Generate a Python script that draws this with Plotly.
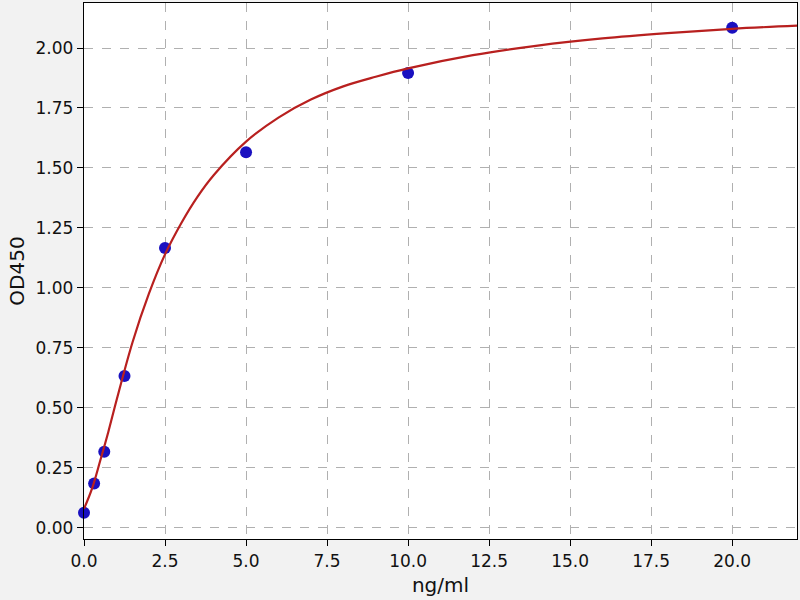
import plotly.graph_objects as go

# Standard points
conc = [0, 0.3125, 0.625, 1.25, 2.5, 5, 10, 20]
od = [0.063, 0.185, 0.318, 0.633, 1.167, 1.566, 1.896, 2.084]

# Fitted curve
curve_x = [0, 0.25, 0.5, 0.75, 1.0, 1.5, 2.0, 2.5, 3.0, 3.5, 4.0, 5.0, 6.0, 7.0,
           8.0, 9.0, 10.0, 12.0, 14.0, 16.0, 18.0, 20.0, 22.0]
curve_y = [0.08, 0.165, 0.28, 0.40, 0.53, 0.775, 0.975, 1.14, 1.27, 1.38, 1.47,
           1.61, 1.71, 1.785, 1.84, 1.88, 1.915, 1.97, 2.01, 2.04, 2.062,
           2.08, 2.093]

x_ticks = [0, 2.5, 5, 7.5, 10, 12.5, 15, 17.5, 20]
x_tick_labels = ["0.0", "2.5", "5.0", "7.5", "10.0", "12.5", "15.0", "17.5", "20.0"]
y_ticks = [0, 0.25, 0.5, 0.75, 1.0, 1.25, 1.5, 1.75, 2.0]
y_tick_labels = ["0.00", "0.25", "0.50", "0.75", "1.00", "1.25", "1.50", "1.75", "2.00"]

fig = go.Figure()
fig.add_trace(go.Scatter(x=conc, y=od, mode="markers",
                         marker=dict(color="#1a10c0", size=12, line=dict(width=0)),
                         showlegend=False, cliponaxis=False))
fig.add_trace(go.Scatter(x=curve_x, y=curve_y, mode="lines",
                         line=dict(color="#b8201f", width=2.2, shape="spline"),
                         showlegend=False))

axis_common = dict(
    showline=True, linecolor="black", linewidth=1.4, mirror=True,
    ticks="outside", ticklen=6, tickcolor="black", tickwidth=1.4,
    showgrid=True, gridcolor="#b0b0b0", griddash="dash", gridwidth=1.2,
    zeroline=False, automargin=False,
    tickfont=dict(family="DejaVu Sans", size=17, color="#111"),
)

fig.update_layout(
    width=800, height=600,
    paper_bgcolor="#f2f2f2", plot_bgcolor="white",
    margin=dict(l=84, r=3, t=3, b=61),
    font=dict(family="DejaVu Sans", size=17, color="#111"),
    xaxis=dict(range=[0, 22], tickvals=x_ticks, ticktext=x_tick_labels,
               title=dict(text="ng/ml", standoff=8), **axis_common),
    yaxis=dict(range=[-0.046, 2.1875], tickvals=y_ticks, ticktext=y_tick_labels,
               title=dict(text="OD450", standoff=5), **axis_common),
)

fig.write_html("out.html", config={"displayModeBar": False},
               post_script="document.body.style.margin='0px';document.body.style.background='#f2f2f2';")
